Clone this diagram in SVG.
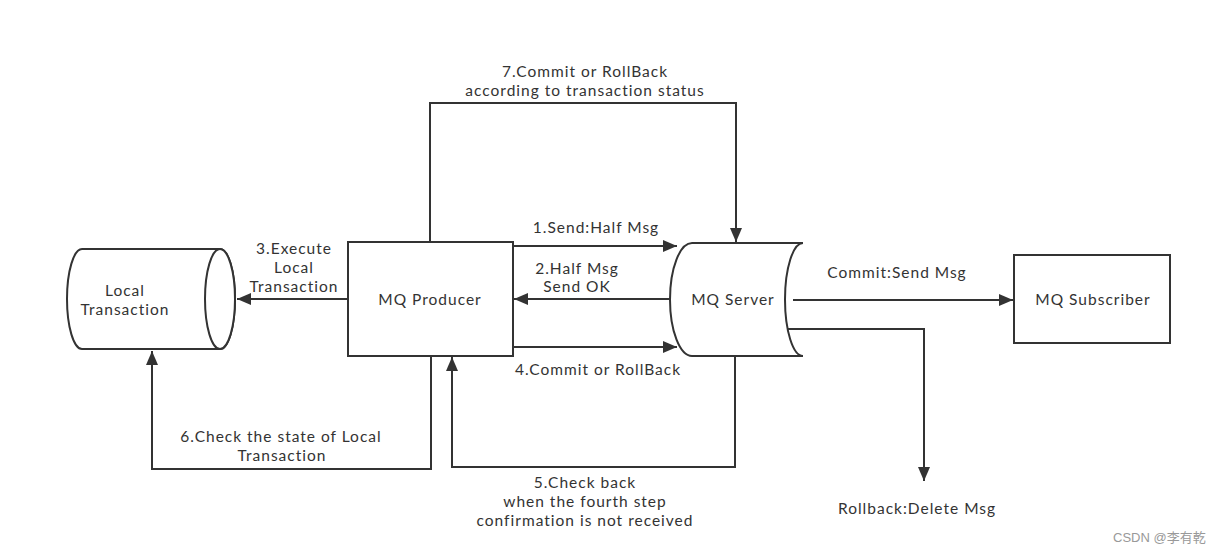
<svg xmlns="http://www.w3.org/2000/svg" width="1229" height="555" viewBox="0 0 1229 555">
<defs>
<style>
.shape{fill:#fff;stroke:#333;stroke-width:2}
.edge{fill:none;stroke:#333;stroke-width:2}
text{font-family:Lato,"Noto Sans","DejaVu Sans",sans-serif;font-size:15.5px;letter-spacing:1px;fill:#333;text-anchor:middle}
.wm{font-family:"Liberation Sans","Noto Sans CJK SC",sans-serif;font-size:13px;letter-spacing:0;fill:#999;text-anchor:start}
</style>
<marker id="arr" markerUnits="userSpaceOnUse" markerWidth="16" markerHeight="14" refX="14" refY="6" orient="auto">
<path d="M0,0 L14,6 L0,12 Z" fill="#333"/>
</marker>
</defs>
<rect width="1229" height="555" fill="#fff"/>
<g id="local-transaction">
<path class="shape" d="M82,249 L220,249 A15,50 0 0 1 220,349 L82,349 A15,50 0 0 1 82,249 Z"/>
<ellipse class="shape" cx="220" cy="299" rx="15" ry="50"/>
<text x="125" y="296">Local</text>
<text x="125" y="315">Transaction</text>
</g>
<g id="mq-producer">
<rect class="shape" x="348" y="242" width="165" height="114"/>
<text x="430" y="305">MQ Producer</text>
</g>
<g id="mq-server">
<path class="shape" d="M692,243 L803,243 A18,56.5 0 0 0 803,356 L692,356 A22,56.5 0 0 1 692,243 Z"/>
<text x="733" y="305">MQ Server</text>
</g>
<g id="mq-subscriber">
<rect class="shape" x="1014" y="255" width="156" height="88"/>
<text x="1093" y="305">MQ Subscriber</text>
</g>
<g id="connectors">
<path class="edge" marker-end="url(#arr)" d="M513,246 L677,246"/>
<path class="edge" marker-end="url(#arr)" d="M670,299 L514,299"/>
<path class="edge" marker-end="url(#arr)" d="M513,347 L677,347"/>
<path class="edge" marker-end="url(#arr)" d="M348,299 L237,299"/>
<path class="edge" marker-end="url(#arr)" d="M430,242 L430,103 L736,103 L736,242"/>
<path class="edge" marker-end="url(#arr)" d="M431,356 L431,469 L152,469 L152,351"/>
<path class="edge" marker-end="url(#arr)" d="M735,356 L735,467 L452,467 L452,357"/>
<path class="edge" marker-end="url(#arr)" d="M793,300 L1013,300"/>
<path class="edge" marker-end="url(#arr)" d="M787,329 L924,329 L924,481"/>
</g>
<g id="labels">
<text x="596" y="233">1.Send:Half Msg</text>
<text x="577" y="274">2.Half Msg</text>
<text x="577" y="292">Send OK</text>
<text x="598" y="375">4.Commit or RollBack</text>
<text x="294" y="254">3.Execute</text>
<text x="294" y="273">Local</text>
<text x="294" y="292">Transaction</text>
<text x="585" y="77">7.Commit or RollBack</text>
<text x="585" y="96">according to transaction status</text>
<text x="281" y="442">6.Check the state of Local</text>
<text x="282" y="461">Transaction</text>
<text x="585" y="488">5.Check back</text>
<text x="585" y="507">when the fourth step</text>
<text x="585" y="526">confirmation is not received</text>
<text x="897" y="278">Commit:Send Msg</text>
<text x="917" y="514">Rollback:Delete Msg</text>
<text class="wm" x="1113" y="542">CSDN @李有乾</text>
</g>
</svg>
